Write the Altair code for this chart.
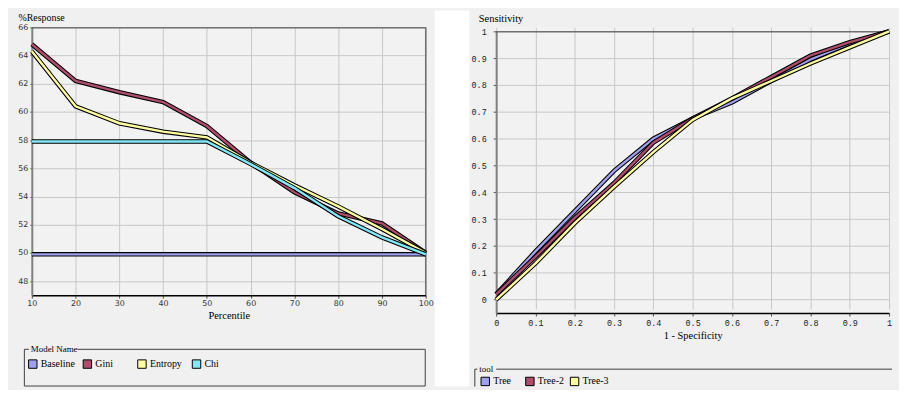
import altair as alt
import pandas as pd

# ---------------- data: left panel (%Response by percentile) ----------------
percentile = [10, 20, 30, 40, 50, 60, 70, 80, 90, 100]
baseline = [49.9, 49.9, 49.9, 49.9, 49.9, 49.9, 49.9, 49.9, 49.9, 49.9]
gini = [64.8, 62.2, 61.4, 60.7, 59.0, 56.4, 54.3, 52.8, 52.1, 50.0]
entropy = [64.3, 60.4, 59.2, 58.6, 58.2, 56.4, 54.8, 53.3, 51.7, 50.0]
chi = [57.9, 57.9, 57.9, 57.9, 57.9, 56.3, 54.6, 52.6, 51.1, 49.9]
left_names = ["Baseline", "Gini", "Entropy", "Chi"]
left_colors = ["#a0a0f0", "#b04c6c", "#ffffa0", "#80e8f8"]
left_x_ticks = [10, 20, 30, 40, 50, 60, 70, 80, 90, 100]
left_y_ticks = [48, 50, 52, 54, 56, 58, 60, 62, 64, 66]

# ---------------- data: right panel (ROC) ----------------
fpr = [0, 0.1, 0.2, 0.3, 0.4, 0.5, 0.6, 0.7, 0.8, 0.9, 1.0]
tree = [0.02, 0.18, 0.33, 0.48, 0.60, 0.675, 0.735, 0.815, 0.895, 0.955, 1.0]
tree2 = [0.02, 0.16, 0.305, 0.435, 0.585, 0.675, 0.75, 0.83, 0.91, 0.96, 1.0]
tree3 = [0.0, 0.135, 0.285, 0.42, 0.55, 0.67, 0.75, 0.815, 0.88, 0.94, 1.0]
right_names = ["Tree", "Tree-2", "Tree-3"]
right_colors = ["#a0a0f0", "#b04c6c", "#ffffa0"]
right_x_ticks = [0, 0.1, 0.2, 0.3, 0.4, 0.5, 0.6, 0.7, 0.8, 0.9, 1]
right_y_ticks = [0, 0.1, 0.2, 0.3, 0.4, 0.5, 0.6, 0.7, 0.8, 0.9, 1]

left_series = {"Baseline": baseline, "Gini": gini, "Entropy": entropy, "Chi": chi}
right_series = {"Tree": tree, "Tree-2": tree2, "Tree-3": tree3}

left_df = pd.DataFrame(
    [{"pct": p, "resp": v, "series": n} for n in left_names for p, v in zip(percentile, left_series[n])]
)
right_df = pd.DataFrame(
    [{"fpr": p, "tpr": v, "series": n} for n in right_names for p, v in zip(fpr, right_series[n])]
)

TITLE_FONT = "Liberation Serif"
FRAME = "#404040"
GRID = "#c8c8c8"
one = alt.Data(values=[{}])
BOTTOM = 362  # lowest content (relative to plot tops)

# ---------------- left panel ----------------
LW, LH = 397, 270
lx = alt.X(
    "pct:Q",
    scale=alt.Scale(domain=[10, 100], nice=False, zero=False),
    axis=alt.Axis(
        values=left_x_ticks, title="Percentile", titleFont=TITLE_FONT, titleFontSize=10.5,
        titleFontWeight="normal", titleColor="black", titleY=20, titleBaseline="middle",
        labelFont="DejaVu Sans", labelFontSize=8, labelColor="#333333", labelPadding=1,
        labelFlush=False, labelOverlap=False, tickSize=3, tickColor="#555555",
        domainColor="#000000", domainWidth=1.5, grid=True, gridColor=GRID, gridWidth=1,
    ),
)
ly = alt.Y(
    "resp:Q",
    scale=alt.Scale(domain=[47, 66], nice=False, zero=False),
    axis=alt.Axis(
        values=left_y_ticks, title="%Response", titleAngle=0, titleAlign="left",
        titleBaseline="middle", titleX=-14, titleY=-10, titleFont=TITLE_FONT, titleFontSize=10,
        titleFontWeight="normal", titleColor="black",
        labelFont="DejaVu Sans", labelFontSize=8, labelColor="#333333", labelPadding=2,
        labelFlush=False, labelOverlap=False, tickSize=2, tickColor="#555555",
        domainColor="#808080", domainWidth=2, grid=True, gridColor=GRID, gridWidth=1,
    ),
)

left_layers = [
    # white gap between the two panels
    alt.Chart(one).mark_rect(color="white").encode(
        x=alt.value(406), x2=alt.value(441), y=alt.value(-17), y2=alt.value(BOTTOM)),
    # left anchor (invisible on background)
    alt.Chart(one).mark_rule(color="#f0f0f0").encode(
        x=alt.value(-23), y=alt.value(-17), y2=alt.value(BOTTOM)),
    # frame top & right
    alt.Chart(one).mark_rule(color=FRAME, strokeWidth=1).encode(
        x=alt.value(0), x2=alt.value(LW), y=alt.value(0.5)),
    alt.Chart(one).mark_rule(color="#707070", strokeWidth=1.5).encode(
        x=alt.value(LW), y=alt.value(0), y2=alt.value(LH)),
    # legend group box
    alt.Chart(one).mark_rule(color=FRAME, strokeWidth=1).encode(
        x=alt.value(-7.5), y=alt.value(324.5), y2=alt.value(361.5)),
    alt.Chart(one).mark_rule(color=FRAME, strokeWidth=1).encode(
        x=alt.value(396.5), y=alt.value(324.5), y2=alt.value(361.5)),
    alt.Chart(one).mark_rule(color=FRAME, strokeWidth=1).encode(
        x=alt.value(-7.5), x2=alt.value(396.5), y=alt.value(361.5)),
    alt.Chart(one).mark_rule(color=FRAME, strokeWidth=1).encode(
        x=alt.value(-7.5), x2=alt.value(-3), y=alt.value(324.5)),
    alt.Chart(one).mark_rule(color=FRAME, strokeWidth=1).encode(
        x=alt.value(46), x2=alt.value(396.5), y=alt.value(324.5)),
    alt.Chart(one).mark_text(text="Model Name", align="left", baseline="middle",
                             font=TITLE_FONT, fontSize=9, color="black").encode(
        x=alt.value(-1), y=alt.value(324.5)),
    # legend carrier
    alt.Chart(left_df).mark_square(opacity=0).encode(
        x=lx, y=ly,
        color=alt.Color(
            "series:N",
            scale=alt.Scale(domain=left_names, range=left_colors),
            legend=alt.Legend(
                orient="none", legendX=-4, legendY=334, direction="horizontal", columns=4,
                gridAlign="all", columnPadding=5, rowPadding=0, padding=0, title=None,
                symbolType="square", symbolSize=72, symbolStrokeColor="black",
                symbolStrokeWidth=1, symbolOpacity=1, labelFont=TITLE_FONT, labelFontSize=10,
                labelColor="black", labelOffset=3,
            ),
        ),
    ),
]
for n, c in zip(left_names, left_colors):
    d = left_df[left_df["series"] == n]
    left_layers.append(alt.Chart(d).mark_line(color="black", strokeWidth=4.5).encode(x=lx, y=ly))
    left_layers.append(alt.Chart(d).mark_line(color=c, strokeWidth=2.4).encode(x=lx, y=ly))

left = alt.layer(*left_layers).properties(width=LW, height=LH)

# ---------------- right panel ----------------
RW, RH = 396, 288
rx = alt.X(
    "fpr:Q",
    scale=alt.Scale(domain=[0, 1], nice=False, zero=False),
    axis=alt.Axis(
        values=right_x_ticks, format="~g", title="1 - Specificity", titleFont=TITLE_FONT,
        titleFontSize=10.5, titleFontWeight="normal", titleColor="black", titleY=23,
        titleBaseline="middle",
        labelFont="Liberation Mono", labelFontSize=8.5, labelColor="#222222", labelPadding=3,
        labelFlush=False, labelOverlap=False, tickSize=3, tickColor="#555555",
        domainColor="#000000", domainWidth=1.5, grid=True, gridColor=GRID, gridWidth=1,
    ),
)
ry = alt.Y(
    "tpr:Q",
    scale=alt.Scale(domain=[-0.05, 1], range=[288, 4], nice=False, zero=False),
    axis=alt.Axis(
        values=right_y_ticks, format="~g", title="Sensitivity", titleAngle=0, titleAlign="left",
        titleBaseline="middle", titleX=-18, titleY=-9, titleFont=TITLE_FONT, titleFontSize=10.5,
        titleFontWeight="normal", titleColor="black",
        labelFont="Liberation Mono", labelFontSize=8.5, labelColor="#222222", labelPadding=7,
        labelFlush=False, labelOverlap=False, tickSize=3, tickColor="#555555",
        domainColor="#808080", domainWidth=2, grid=True, gridColor=GRID, gridWidth=1,
    ),
)

right_layers = [
    # frame top
    alt.Chart(one).mark_rule(color=FRAME, strokeWidth=1).encode(
        x=alt.value(0), x2=alt.value(RW), y=alt.value(4.5)),
    # legend group box (runs off the bottom/right edge)
    alt.Chart(one).mark_rule(color=FRAME, strokeWidth=1).encode(
        x=alt.value(-21.5), y=alt.value(344.5), y2=alt.value(BOTTOM)),
    alt.Chart(one).mark_rule(color=FRAME, strokeWidth=1).encode(
        x=alt.value(-21.5), x2=alt.value(-19), y=alt.value(344.5)),
    alt.Chart(one).mark_rule(color=FRAME, strokeWidth=1).encode(
        x=alt.value(0), x2=alt.value(399), y=alt.value(344.5)),
    alt.Chart(one).mark_text(text="tool", align="left", baseline="middle",
                             font=TITLE_FONT, fontSize=9, color="black").encode(
        x=alt.value(-17), y=alt.value(344.5)),
    alt.Chart(right_df).mark_square(opacity=0).encode(
        x=rx, y=ry,
        color=alt.Color(
            "series:N",
            scale=alt.Scale(domain=right_names, range=right_colors),
            legend=alt.Legend(
                orient="none", legendX=-16, legendY=351.5, direction="horizontal", columns=3,
                gridAlign="all", columnPadding=3, rowPadding=0, padding=0, title=None,
                symbolType="square", symbolSize=72, symbolStrokeColor="black",
                symbolStrokeWidth=1, symbolOpacity=1, labelFont=TITLE_FONT, labelFontSize=10,
                labelColor="black", labelOffset=3,
            ),
        ),
    ),
]
for n, c in zip(right_names, right_colors):
    d = right_df[right_df["series"] == n]
    right_layers.append(alt.Chart(d).mark_line(color="black", strokeWidth=4.5).encode(x=rx, y=ry))
    right_layers.append(alt.Chart(d).mark_line(color=c, strokeWidth=2.4).encode(x=rx, y=ry))

right = alt.layer(*right_layers).properties(width=RW, height=RH)

chart = (
    alt.hconcat(left, right, spacing=71, bounds="flush")
    .resolve_scale(color="independent")
    .resolve_legend(color="independent")
    .properties(padding=0)
    .configure(background="#f0f0f0")
    .configure_view(fill="#f2f2f2", stroke="transparent")
)

chart.save("out.html", embed_options={"renderer": "svg", "actions": False})
